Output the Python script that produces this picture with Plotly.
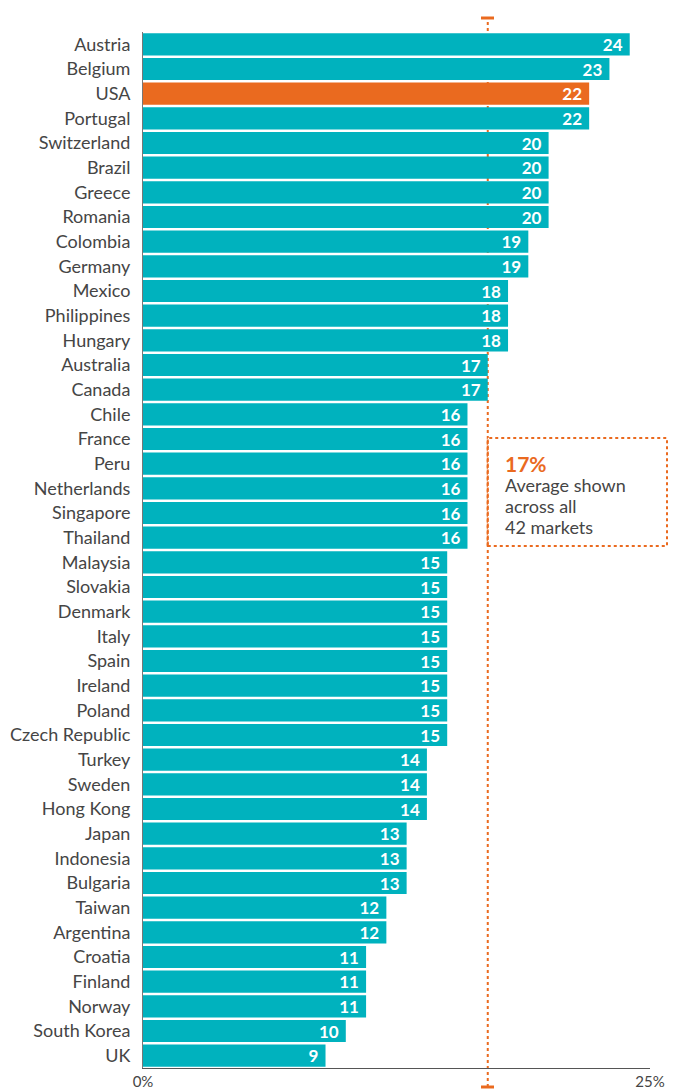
import plotly.graph_objects as go

countries = ["Austria", "Belgium", "USA", "Portugal", "Switzerland", "Brazil", "Greece", "Romania",
             "Colombia", "Germany", "Mexico", "Philippines", "Hungary", "Australia", "Canada", "Chile",
             "France", "Peru", "Netherlands", "Singapore", "Thailand", "Malaysia", "Slovakia", "Denmark",
             "Italy", "Spain", "Ireland", "Poland", "Czech Republic", "Turkey", "Sweden", "Hong Kong",
             "Japan", "Indonesia", "Bulgaria", "Taiwan", "Argentina", "Croatia", "Finland", "Norway",
             "South Korea", "UK"]
values = [24, 23, 22, 22, 20, 20, 20, 20, 19, 19, 18, 18, 18, 17, 17, 16, 16, 16, 16, 16, 16,
          15, 15, 15, 15, 15, 15, 15, 15, 14, 14, 14, 13, 13, 13, 12, 12, 11, 11, 11, 10, 9]
highlight = "USA"
average = 17
x_ticks = [0, 25]
x_tick_labels = ["0%", "25%"]
note_title = "17%"
note_lines = ["Average shown", "across all", "42 markets"]

TEAL = "#00B2BE"
ORANGE = "#EA6A1F"
GREY = "#454545"
FONT = "Lato"

# page body has an 8px margin; work in reference-window pixels
OFF = 8
WIN_W, WIN_H = 679, 1090
W, H = WIN_W - OFF, WIN_H - OFF
PLOT_L, PLOT_R, PLOT_T, PLOT_B = 143, 650, 32, 1068   # reference window pixels
ML = PLOT_L - OFF
MR = WIN_W - PLOT_R
MT = PLOT_T - OFF
MB = WIN_H - PLOT_B
PW, PH = PLOT_R - PLOT_L, PLOT_B - PLOT_T


def px_x(px):
    return (px - PLOT_L) / PW


def px_y(py):
    return (PLOT_B - py) / PH


colors = [ORANGE if c == highlight else TEAL for c in countries]

fig = go.Figure(go.Bar(
    x=values, y=countries, orientation="h",
    marker=dict(color=colors, line=dict(width=0)),
    text=[f"{v}\u00a0" for v in values],
    textposition="inside", insidetextanchor="end", textangle=0,
    textfont=dict(family=FONT, size=17, color="white", weight="bold"),
    constraintext="none",
    cliponaxis=False,
    hoverinfo="skip",
))

fig.update_layout(
    width=W, height=H,
    margin=dict(l=ML, r=MR, t=MT, b=MB, autoexpand=False),
    paper_bgcolor="white", plot_bgcolor="rgba(0,0,0,0)",
    bargap=0.1,
    showlegend=False,
    font=dict(family=FONT, color=GREY, size=17),
    xaxis=dict(range=[0, 25], tickvals=x_ticks, ticktext=x_tick_labels, showgrid=False,
               zeroline=False, showline=True, linecolor="#555555", linewidth=1,
               ticks="", automargin=False, ticklabelstandoff=0,
               tickfont=dict(size=15, color=GREY)),
    yaxis=dict(categoryorder="array", categoryarray=countries[::-1], autorange=False,
               range=[-0.5, len(countries) - 0.5], showgrid=False, zeroline=False,
               showline=True, linecolor="#777777", linewidth=1, ticks="", automargin=False,
               ticklabelstandoff=8, tickfont=dict(size=18, color=GREY)),
)

# average dotted line (behind bars) and caps
fig.add_shape(type="line", xref="x", yref="paper", x0=average, x1=average,
              y0=px_y(1087), y1=px_y(18), layer="below",
              line=dict(color=ORANGE, width=2, dash="dot"))
for cy in (18, 1087):
    fig.add_shape(type="line", xref="paper", yref="paper",
                  x0=px_x(481), x1=px_x(494), y0=px_y(cy), y1=px_y(cy),
                  line=dict(color=ORANGE, width=3))

# annotation box
fig.add_shape(type="rect", xref="paper", yref="paper",
              x0=average / 25, x1=px_x(667), y0=px_y(546), y1=px_y(438),
              line=dict(color=ORANGE, width=2, dash="dot"), fillcolor="white", layer="above")
fig.add_shape(type="line", xref="x", yref="paper", x0=average, x1=average,
              y0=px_y(546), y1=px_y(438), line=dict(color=ORANGE, width=2, dash="dot"))

fig.add_annotation(xref="paper", yref="paper", x=px_x(503), y=px_y(463),
                   xanchor="left", yanchor="middle", showarrow=False,
                   text=f"<b>{note_title}</b>", font=dict(family=FONT, size=21, color=ORANGE))
for i, line in enumerate(note_lines):
    fig.add_annotation(xref="paper", yref="paper", x=px_x(503), y=px_y(485 + 21 * i),
                       xanchor="left", yanchor="middle", showarrow=False, align="left",
                       text=line, font=dict(family=FONT, size=18, color=GREY))

fig.write_html("out.html")
